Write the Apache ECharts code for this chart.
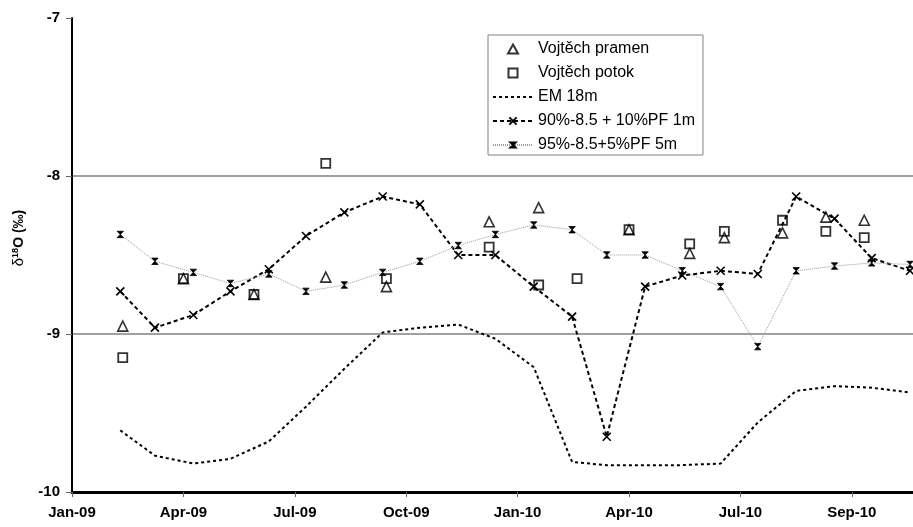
<!DOCTYPE html>
<html><head><meta charset="utf-8">
<script src="https://cdn.jsdelivr.net/npm/echarts@6/dist/echarts.min.js"></script>
<style>html,body{margin:0;padding:0;background:#fff}#c{width:913px;height:527px}</style>
</head><body><div id="c"></div>
<script>
// ---- data ----
const axisOrigin = '2009-01-07';
const tickLabels = ['Jan-09','Apr-09','Jul-09','Oct-09','Jan-10','Apr-10','Jul-10','Sep-10'];
const yTicks = [-10, -9, -8, -7];

const pramenDates = ['2009-02-17','2009-04-07','2009-06-03','2009-07-31','2009-09-18','2009-12-10','2010-01-19','2010-04-02','2010-05-21','2010-06-18','2010-08-04','2010-09-08','2010-10-09'];
const pramen = [-8.95,-8.65,-8.75,-8.64,-8.70,-8.29,-8.20,-8.34,-8.49,-8.39,-8.36,-8.26,-8.28];

const potokDates = ['2009-02-17','2009-04-07','2009-06-03','2009-07-31','2009-09-18','2009-12-10','2010-01-19','2010-02-19','2010-04-02','2010-05-21','2010-06-18','2010-08-04','2010-09-08','2010-10-09'];
const potok = [-9.15,-8.65,-8.75,-7.92,-8.65,-8.45,-8.69,-8.65,-8.34,-8.43,-8.35,-8.28,-8.35,-8.39];

const modelDates = ['2009-02-15','2009-03-15','2009-04-15','2009-05-15','2009-06-15','2009-07-15','2009-08-15','2009-09-15','2009-10-15','2009-11-15','2009-12-15',
  '2010-01-15','2010-02-15','2010-03-15','2010-04-15','2010-05-15','2010-06-15','2010-07-15','2010-08-15','2010-09-15','2010-10-15','2010-11-15'];
const em18 = [-9.61,-9.77,-9.82,-9.79,-9.68,-9.46,-9.22,-8.99,-8.96,-8.94,-9.03,-9.21,-9.81,-9.83,-9.83,-9.83,-9.82,-9.56,-9.36,-9.33,-9.34,-9.37];
const mix90 = [-8.73,-8.96,-8.88,-8.73,-8.59,-8.38,-8.23,-8.13,-8.18,-8.50,-8.50,-8.70,-8.89,-9.65,-8.70,-8.63,-8.60,-8.62,-8.13,-8.27,-8.52,-8.60];
const mix95 = [-8.37,-8.54,-8.61,-8.68,-8.62,-8.73,-8.69,-8.61,-8.54,-8.44,-8.37,-8.31,-8.34,-8.50,-8.50,-8.60,-8.70,-9.08,-8.60,-8.57,-8.55,-8.56];

const seriesNames = ['Vojtěch pramen','Vojtěch potok','EM 18m','90%-8.5 + 10%PF 1m','95%-8.5+5%PF 5m'];

// ---- helpers ----
function dayOf(s){
  const p = s.split('-').map(Number), o = axisOrigin.split('-').map(Number);
  return (Date.UTC(p[0],p[1]-1,p[2]) - Date.UTC(o[0],o[1]-1,o[2]))/86400000;
}
const tickStep = 90;
const tickDays = tickLabels.map((_, i) => i*tickStep);
const pairs = (dates, vals) => dates.map((d, i) => [dayOf(d), vals[i]]);

const FONT = '"Liberation Sans", Arial, sans-serif';
const SYM_TRI = 'path://M5,0L10,9L0,9Z';
const SYM_SQ = 'path://M0,0L10,0L10,10L0,10Z';
const SYM_X = 'path://M0,0L10,10M10,0L0,10';
const SYM_STAR = 'path://M-2,-2L-2,-2M0,0L10,0L0,10L10,10ZM12,12L12,12';

const chart = echarts.init(document.getElementById('c'), null, {renderer:'canvas'});
chart.setOption({
  animation: false,
  backgroundColor: '#fff',
  grid: {left: 72, top: 18, right: 0, bottom: 35, containLabel: false},
  xAxis: {
    type: 'value', min: 0, max: 679.4, interval: tickStep,
    axisLine: {show: true, onZero: false, lineStyle: {color: '#000', width: 3}},
    axisTick: {show: true, customValues: tickDays, length: 5, lineStyle: {color: '#666', width: 1}},
    axisLabel: {customValues: tickDays, margin: 13, color: '#000', fontFamily: FONT, fontWeight: 'bold', fontSize: 15,
      formatter: v => tickLabels[Math.round(v/tickStep)] || ''},
    splitLine: {show: false}
  },
  yAxis: {
    type: 'value', min: yTicks[0], max: yTicks[yTicks.length-1], interval: 1,
    axisLine: {show: true, lineStyle: {color: '#000', width: 2}},
    axisTick: {show: true, length: 6, lineStyle: {color: '#666', width: 1}},
    axisLabel: {margin: 12, color: '#000', fontFamily: FONT, fontWeight: 'bold', fontSize: 15},
    splitLine: {show: true, lineStyle: {color: ['transparent', '#808080', '#808080', 'transparent'], width: 1.5}}
  },
  legend: {
    orient: 'vertical', left: 488, top: 35,
    backgroundColor: '#fff', borderColor: '#808080', borderWidth: 1, borderRadius: 0,
    padding: [6, 8, 2, 4], itemWidth: 40, itemHeight: 9, itemGap: 8,
    selectedMode: false,
    textStyle: {fontFamily: FONT, fontSize: 16, color: '#000'},
    data: seriesNames
  },
  graphic: [{
    type: 'text', x: 19, y: 238, rotation: Math.PI/2,
    style: {
      text: '{a|δ}{b|18}{c|O (‰)}', align: 'center', verticalAlign: 'middle',
      rich: {
        a: {fontFamily: FONT, fontSize: 15, fill: '#000'},
        b: {fontFamily: FONT, fontSize: 9, fontWeight: 'bold', fill: '#000', verticalAlign: 'top'},
        c: {fontFamily: FONT, fontSize: 14, fontWeight: 'bold', fill: '#000'}
      }
    }
  }],
  series: [
    {name: seriesNames[0], type: 'scatter', data: pairs(pramenDates, pramen), symbol: SYM_TRI, symbolSize: 10,
      itemStyle: {color: 'transparent', borderColor: '#000', borderWidth: 1.6}, z: 4},
    {name: seriesNames[1], type: 'scatter', data: pairs(potokDates, potok), symbol: SYM_SQ, symbolSize: 9,
      itemStyle: {color: 'transparent', borderColor: '#000', borderWidth: 1.8}, z: 4},
    {name: seriesNames[2], type: 'line', data: pairs(modelDates, em18), symbol: 'circle', showSymbol: false,
      lineStyle: {color: '#000', width: 2, type: [3, 3]}, itemStyle: {color: 'transparent', borderColor: 'transparent', borderWidth: 0}},
    {name: seriesNames[3], type: 'line', data: pairs(modelDates, mix90), symbol: SYM_X, symbolSize: 8,
      lineStyle: {color: '#000', width: 2, type: [4, 3]}, itemStyle: {color: '#000', borderColor: '#000', borderWidth: 1.6}},
    {name: seriesNames[4], type: 'line', data: pairs(modelDates, mix95), symbol: SYM_STAR, symbolSize: 9,
      lineStyle: {color: '#9a9a9a', width: 1, type: [1, 1]}, itemStyle: {color: '#000', borderColor: '#000', borderWidth: 0.8}}
  ]
});
</script></body></html>
